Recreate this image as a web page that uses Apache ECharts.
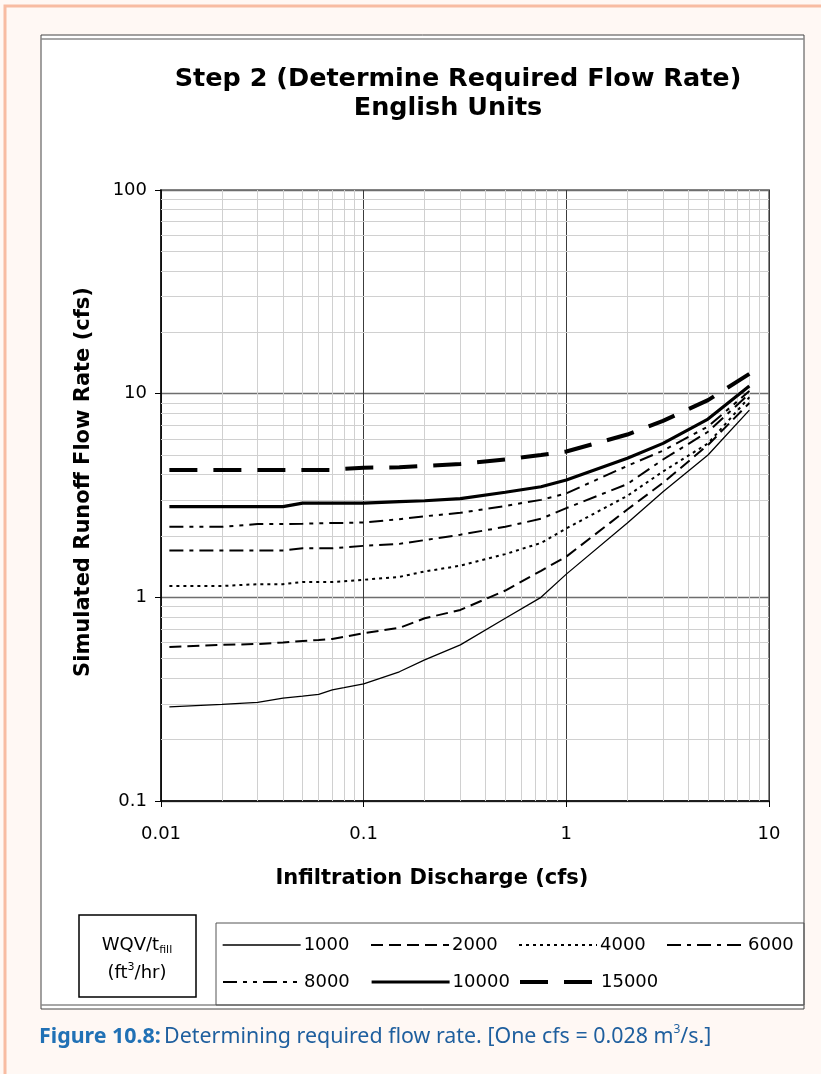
<!DOCTYPE html>
<html>
<head>
<meta charset="utf-8">
<title>Step 2 (Determine Required Flow Rate)</title>
<script src="https://cdn.jsdelivr.net/npm/echarts@6/dist/echarts.min.js"></script>
<style>
  html, body { margin: 0; padding: 0; background: #fff8f4; }
  #chart { width: 821px; height: 1074px; }
</style>
</head>
<body>
<div id="chart"></div>
<script>
// Infiltration discharge (cfs) at which each curve is tabulated
const discharge = [0.011, 0.02, 0.03, 0.04, 0.05, 0.06, 0.07, 0.08, 0.1, 0.15, 0.2, 0.3, 0.5, 0.75, 1, 2, 3, 5, 8];

// Simulated runoff flow rate (cfs) for each WQV/t_fill value (ft3/hr)
const flow1000  = [0.29, 0.298, 0.305, 0.32, 0.327, 0.334, 0.351, 0.36, 0.376, 0.431, 0.493, 0.584, 0.789, 1.0, 1.3, 2.32, 3.3, 5.0, 8.3];
const flow2000  = [0.571, 0.584, 0.59, 0.6, 0.61, 0.618, 0.625, 0.64, 0.667, 0.708, 0.789, 0.867, 1.08, 1.35, 1.585, 2.7, 3.65, 5.6, 9.0];
const flow4000  = [1.137, 1.137, 1.16, 1.16, 1.19, 1.19, 1.19, 1.2, 1.22, 1.26, 1.34, 1.43, 1.63, 1.85, 2.18, 3.15, 4.15, 5.7, 9.6];
const flow6000  = [1.70, 1.70, 1.70, 1.70, 1.74, 1.74, 1.74, 1.76, 1.79, 1.83, 1.91, 2.03, 2.22, 2.43, 2.74, 3.6, 4.75, 6.5, 10.0];
const flow8000  = [2.22, 2.22, 2.29, 2.29, 2.3, 2.31, 2.32, 2.32, 2.33, 2.42, 2.5, 2.6, 2.81, 3.01, 3.24, 4.42, 5.25, 6.9, 10.3];
const flow10000 = [2.79, 2.79, 2.79, 2.79, 2.9, 2.9, 2.9, 2.9, 2.9, 2.95, 2.98, 3.05, 3.28, 3.49, 3.77, 4.82, 5.7, 7.5, 10.9];
const flow15000 = [4.22, 4.22, 4.22, 4.22, 4.22, 4.22, 4.22, 4.28, 4.33, 4.35, 4.42, 4.52, 4.75, 5.0, 5.2, 6.3, 7.35, 9.3, 12.5];

const seriesNames = ['1000', '2000', '4000', '6000', '8000', '10000', '15000'];
const seriesValues = [flow1000, flow2000, flow4000, flow6000, flow8000, flow10000, flow15000];

// Axis tick labels (log axes)
const xTickLabels = ['0.01', '0.1', '1', '10'];
const yTickLabels = ['0.1', '1', '10', '100'];

// Minor grid lines: 2..9 within each decade
const minorSteps = [2, 3, 4, 5, 6, 7, 8, 9];
const xDecades = [0.01, 0.1, 1];
const yDecades = [0.1, 1, 10];

// Line appearance per series
const lineStyles = [
  { width: 1.3, type: 'solid' },
  { width: 2, type: [12, 6] },
  { width: 2, type: [3, 4] },
  { width: 2, type: [14, 6, 4, 6] },
  { width: 2, type: [14, 6, 4, 6, 4, 6] },
  { width: 3.2, type: 'solid' },
  { width: 4, type: [28, 16] }
];

const FONT = 'DejaVu Sans';

function tickText(list) {
  return function (v) {
    for (const s of list) {
      if (Math.abs(Math.log10(Number(s)) - Math.log10(v)) < 1e-6) return s;
    }
    return '';
  };
}

const minorX = [];
xDecades.forEach(d => minorSteps.forEach(k => minorX.push(d * k)));
const minorY = [];
yDecades.forEach(d => minorSteps.forEach(k => minorY.push(d * k)));

const dataSeries = seriesNames.map((name, i) => ({
  name: name,
  type: 'line',
  data: discharge.map((x, j) => [x, seriesValues[i][j]]),
  symbol: 'none',
  z: 5,
  lineStyle: { color: '#000', width: lineStyles[i].width, type: lineStyles[i].type, cap: 'butt' },
  itemStyle: { color: '#000' },
  emphasis: { disabled: true },
  animation: false
}));

const minorGrid = {
  name: 'minor-grid',
  type: 'line',
  data: [],
  silent: true,
  z: 1,
  markLine: {
    silent: true,
    animation: false,
    symbol: ['none', 'none'],
    label: { show: false },
    emphasis: { disabled: true },
    lineStyle: { color: '#d0d0d0', width: 1, type: 'solid' },
    data: minorX.map(v => ({ xAxis: v })).concat(minorY.map(v => ({ yAxis: v })))
  }
};

// Legend laid out in two rows of fixed columns
const legendCols = [222, 370, 518, 666];
const legendRows = [936, 973];
const legends = seriesNames.map((name, i) => ({
  data: [name],
  left: legendCols[i < 4 ? i : i - 4],
  top: legendRows[i < 4 ? 0 : 1],
  z: 20,
  padding: 0,
  itemWidth: 78,
  itemHeight: 16,
  itemGap: 0,
  selectedMode: false,
  itemStyle: { opacity: 0 },
  lineStyle: { color: '#000', width: lineStyles[i].width, type: lineStyles[i].type, cap: 'butt' },
  textStyle: { fontFamily: FONT, fontSize: 18, color: '#000', padding: [0, 0, 0, -2] }
}));

const chart = echarts.init(document.getElementById('chart'), null, { renderer: 'canvas' });

const titleFont = { fontFamily: FONT, fontWeight: 'bold', fontSize: 25.5, lineHeight: 29, color: '#000' };

chart.setOption({
  backgroundColor: '#fff8f4',
  animation: false,
  title: [
    { text: 'Step 2 (Determine Required Flow Rate)', left: 458, top: 65, textAlign: 'center', padding: 0, textStyle: titleFont },
    { text: 'English Units', left: 448, top: 94, textAlign: 'center', padding: 0, textStyle: titleFont }
  ],
  legend: legends,
  grid: {
    left: 161, top: 190, width: 608, height: 611,
    show: true, backgroundColor: '#ffffff', borderColor: '#8a8a8a', borderWidth: 2,
    containLabel: false
  },
  xAxis: {
    type: 'log', logBase: 10, min: 0.01, max: 10,
    axisLine: { show: true, lineStyle: { color: '#000', width: 1.5 } },
    axisTick: { show: true, length: 6, lineStyle: { color: '#000', width: 1 } },
    axisLabel: { margin: 24, fontFamily: FONT, fontSize: 18, color: '#000', formatter: tickText(xTickLabels) },
    splitLine: { show: true, lineStyle: { color: '#3c3c3c', width: 1 } },
    minorTick: { show: false },
    minorSplitLine: { show: false }
  },
  yAxis: {
    type: 'log', logBase: 10, min: 0.1, max: 100,
    axisLine: { show: true, lineStyle: { color: '#000', width: 1.5 } },
    axisTick: { show: true, length: 6, lineStyle: { color: '#000', width: 1 } },
    axisLabel: { margin: 14, fontFamily: FONT, fontSize: 18, color: '#000', formatter: tickText(yTickLabels) },
    splitLine: { show: true, lineStyle: { color: '#6e6e6e', width: 1.3 } },
    minorTick: { show: false },
    minorSplitLine: { show: false }
  },
  series: [minorGrid].concat(dataSeries),
  graphic: [
    { type: 'rect', z: -20, shape: { x: 5, y: 6, width: 840, height: 1100 },
      style: { fill: '#fff8f4', stroke: '#f8bca2', lineWidth: 3 } },
    { type: 'rect', z: -10, shape: { x: 41, y: 35, width: 763, height: 974 },
      style: { fill: '#ffffff', stroke: '#444444', lineWidth: 1 } },
    { type: 'line', z: -9, shape: { x1: 41, y1: 39, x2: 804, y2: 39 },
      style: { stroke: '#8a8a8a', lineWidth: 1.5 } },
    { type: 'line', z: -9, shape: { x1: 41, y1: 1005, x2: 804, y2: 1005 },
      style: { stroke: '#8a8a8a', lineWidth: 1.5 } },
    { type: 'rect', z: -9, shape: { x: 79, y: 915, width: 117, height: 82 },
      style: { fill: 'none', stroke: '#000000', lineWidth: 1.5 } },
    { type: 'rect', z: -9, shape: { x: 216, y: 923, width: 588, height: 82 },
      style: { fill: 'none', stroke: '#555555', lineWidth: 1 } },
    { type: 'text', z: 10, rotation: Math.PI / 2, x: 84, y: 482,
      style: { text: 'Simulated Runoff Flow Rate (cfs)', font: 'bold 21px "DejaVu Sans"',
        fill: '#000', textAlign: 'center', textVerticalAlign: 'middle' } },
    { type: 'text', z: 10, x: 432, y: 879,
      style: { text: 'Infiltration Discharge (cfs)', font: 'bold 21px "DejaVu Sans"',
        fill: '#000', textAlign: 'center', textVerticalAlign: 'middle' } },
    { type: 'text', z: 10, x: 137, y: 945,
      style: { text: '{n|WQV/t}{sub|fill}', textAlign: 'center', textVerticalAlign: 'middle',
        rich: {
          n: { fontFamily: FONT, fontSize: 18, fill: '#000', lineHeight: 22 },
          sub: { fontFamily: FONT, fontSize: 11, fill: '#000', lineHeight: 22, verticalAlign: 'bottom' }
        } } },
    { type: 'text', z: 10, x: 137, y: 973,
      style: { text: '{n|(ft}{sup|3}{n|/hr)}', textAlign: 'center', textVerticalAlign: 'middle',
        rich: {
          n: { fontFamily: FONT, fontSize: 18, fill: '#000', lineHeight: 22 },
          sup: { fontFamily: FONT, fontSize: 11, fill: '#000', lineHeight: 22, verticalAlign: 'top' }
        } } },
    { type: 'text', z: 10, x: 39, y: 1037,
      style: { text: '{b|Figure 10.8:} {r|Determining required flow rate. [One cfs = 0.028 m}{s|3}{r|/s.]}',
        textAlign: 'left', textVerticalAlign: 'middle',
        rich: {
          b: { fontFamily: 'Noto Sans', fontWeight: 'bold', fontSize: 21.4, fill: '#2171b5', lineHeight: 26 },
          r: { fontFamily: 'Noto Sans', fontSize: 21.4, fill: '#1f5f9e', lineHeight: 26 },
          s: { fontFamily: 'Noto Sans', fontSize: 12, fill: '#1f5f9e', lineHeight: 26, verticalAlign: 'top' }
        } } }
  ]
});
</script>
</body>
</html>
